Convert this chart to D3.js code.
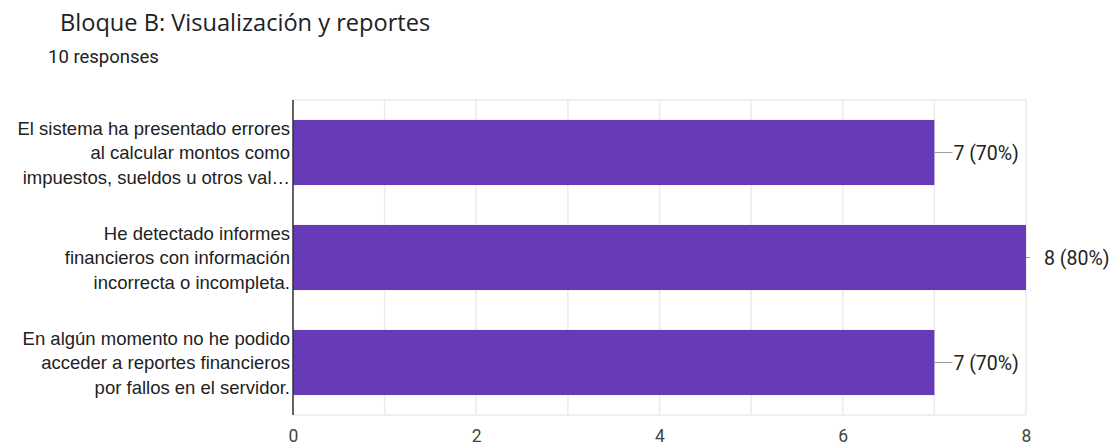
<!DOCTYPE html>
<html>
<head>
<meta charset="utf-8">
<script src="https://cdn.jsdelivr.net/npm/d3@7"></script>
<style>
  html, body { margin: 0; padding: 0; background: #fff; }
  svg { display: block; }
</style>
</head>
<body>
<svg id="chart" width="1114" height="446"></svg>
<script>
// Survey block: answers per statement (out of 10 responses)
const categories = [
  ["El sistema ha presentado errores", "al calcular montos como", "impuestos, sueldos u otros val…"],
  ["He detectado informes", "financieros con información", "incorrecta o incompleta."],
  ["En algún momento no he podido", "acceder a reportes financieros", "por fallos en el servidor."]
];
const counts = [7, 8, 7];
const percents = ["70%", "80%", "70%"];
const tickValues = [0, 2, 4, 6, 8];
const gridValues = [0, 1, 2, 3, 4, 5, 6, 7, 8];
const title = "Bloque B: Visualización y reportes";
const subtitle = "10 responses";

const svg = d3.select("#chart");
const margin = { top: 100, left: 293, right: 88, bottom: 31 };
const W = 1114, H = 446;
const innerW = W - margin.left - margin.right;
const innerH = H - margin.top - margin.bottom;

svg.append("text")
  .attr("x", 60).attr("y", 31)
  .attr("font-family", "'Open Sans', Roboto, sans-serif")
  .attr("font-size", 23.6)
  .attr("fill", "#202124")
  .text(title);

svg.append("text")
  .attr("x", 48).attr("y", 63)
  .attr("font-family", "Roboto, sans-serif")
  .attr("font-size", 18.5)
  .attr("fill", "#202124")
  .text(subtitle);

const x = d3.scaleLinear().domain([0, 8]).range([0, innerW]);
const y = d3.scaleBand().domain(d3.range(counts.length)).range([0, innerH])
  .paddingInner(0.38).paddingOuter(0.19);

const g = svg.append("g").attr("transform", `translate(${margin.left},${margin.top})`);

// vertical grid lines
g.selectAll("line.grid").data(gridValues).join("line")
  .attr("class", "grid")
  .attr("x1", d => x(d)).attr("x2", d => x(d))
  .attr("y1", 0).attr("y2", innerH)
  .attr("stroke", "#ebebeb").attr("stroke-width", 1.5);

// top and bottom frame lines
[0, innerH].forEach(v => {
  g.append("line")
    .attr("x1", 0).attr("x2", innerW)
    .attr("y1", v).attr("y2", v)
    .attr("stroke", "#ebebeb").attr("stroke-width", 1.5);
});

// bars
g.selectAll("rect.bar").data(counts).join("rect")
  .attr("class", "bar")
  .attr("x", 0)
  .attr("y", (d, i) => y(i))
  .attr("width", d => x(d))
  .attr("height", y.bandwidth())
  .attr("fill", "#673ab7");

// value labels with leader lines
counts.forEach((d, i) => {
  const cy = y(i) + y.bandwidth() / 2;
  const atMax = d === 8;
  const lineLen = atMax ? 4 : 18;
  const gap = atMax ? 18 : 19;
  g.append("line")
    .attr("x1", x(d)).attr("x2", x(d) + lineLen)
    .attr("y1", cy).attr("y2", cy)
    .attr("stroke", "#9e9e9e").attr("stroke-width", 1);
  g.append("text")
    .attr("x", x(d) + gap)
    .attr("y", cy + 7)
    .attr("font-family", "Roboto, sans-serif")
    .attr("font-size", 19.5)
    .attr("fill", "#222")
    .text(`${d} (${percents[i]})`);
});

// category labels
categories.forEach((lines, i) => {
  const cy = y(i) + y.bandwidth() / 2;
  const t = g.append("text")
    .attr("text-anchor", "end")
    .attr("font-family", "'Liberation Sans', Arial, sans-serif")
    .attr("font-size", 18.5)
    .attr("fill", "#222");
  lines.forEach((ln, k) => {
    t.append("tspan")
      .attr("x", -3)
      .attr("y", cy + 6.8 + (k - 1) * 24.6)
      .text(ln);
  });
});

// left axis line
g.append("line")
  .attr("x1", 0).attr("x2", 0)
  .attr("y1", 0).attr("y2", innerH)
  .attr("stroke", "#333").attr("stroke-width", 1.5);

// bottom axis tick labels
const xAxis = d3.axisBottom(x).tickValues(tickValues).tickSize(0);
const ax = g.append("g").attr("transform", `translate(0,${innerH})`).call(xAxis);
ax.select(".domain").remove();
ax.selectAll("text")
  .attr("y", 26.5)
  .attr("dy", null)
  .attr("font-family", "Roboto, sans-serif")
  .attr("font-size", 17.5)
  .attr("fill", "#444");
</script>
</body>
</html>
